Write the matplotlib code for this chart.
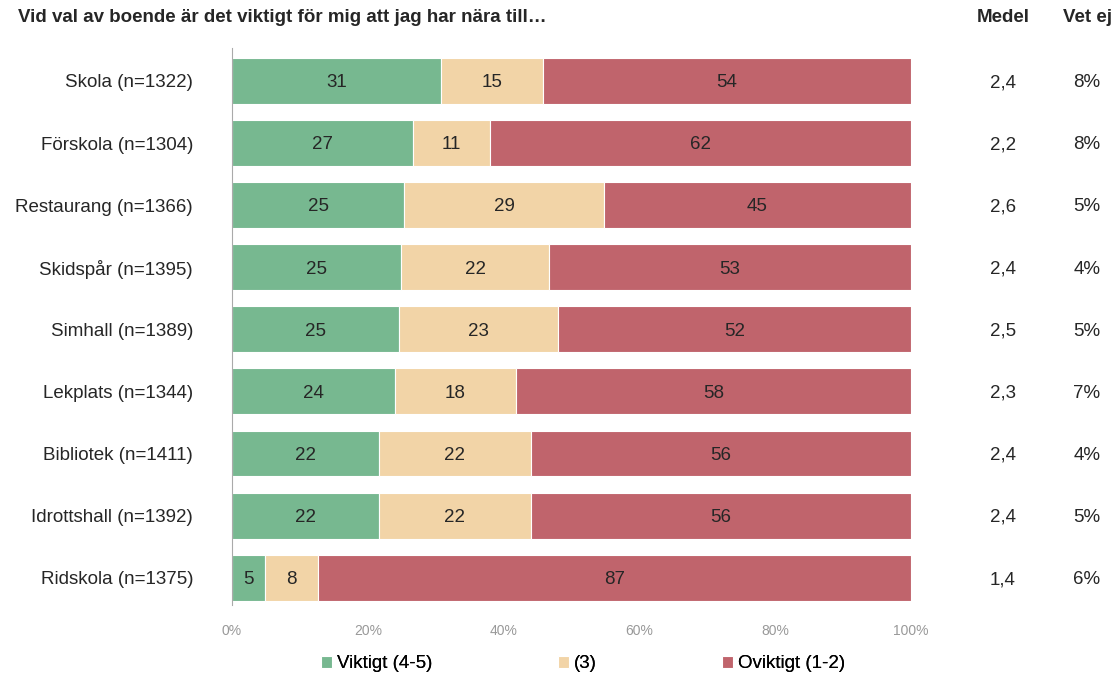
import matplotlib.pyplot as plt
import numpy as np

plt.rcParams['font.family'] = ['Liberation Sans', 'DejaVu Sans']

categories = ['Skola (n=1322)', 'Förskola (n=1304)', 'Restaurang (n=1366)',
              'Skidspår (n=1395)', 'Simhall (n=1389)', 'Lekplats (n=1344)',
              'Bibliotek (n=1411)', 'Idrottshall (n=1392)', 'Ridskola (n=1375)']
viktigt = [30.8, 26.7, 25.4, 24.9, 24.6, 24.0, 21.6, 21.6, 4.9]
mitten = [15.0, 11.3, 29.4, 21.8, 23.4, 17.8, 22.4, 22.4, 7.8]
oviktigt = [54.2, 62.0, 45.2, 53.3, 52.0, 58.2, 56.0, 56.0, 87.3]
medel = ['2,4', '2,2', '2,6', '2,4', '2,5', '2,3', '2,4', '2,4', '1,4']
vet_ej = ['8%', '8%', '5%', '4%', '5%', '7%', '4%', '5%', '6%']

series = [('Viktigt (4-5)', viktigt, '#77b890'),
          ('(3)', mitten, '#f2d4a7'),
          ('Oviktigt (1-2)', oviktigt, '#c0646c')]

fig = plt.figure(figsize=(11.2, 6.76), dpi=100)
ax = fig.add_axes([232 / 1120, 1 - 605 / 676, 679 / 1120, 557 / 676])

y = np.arange(len(categories))
left = np.zeros(len(categories))
handles = []
for name, vals, color in series:
    vals = np.array(vals)
    b = ax.barh(y, vals, left=left, height=0.74, color=color,
                edgecolor='white', linewidth=0.8, label=name)
    handles.append(b)
    for yi, l, v in zip(y, left, vals):
        ax.text(l + v / 2, yi + 0.03, f'{v:.0f}', ha='center', va='center',
                fontsize=13.5, color='#262626')
    left += vals

ax.set_xlim(0, 100)
ax.set_ylim(len(categories) - 1 + 0.44, -0.53)
ax.set_yticks(y)
ax.set_yticklabels(categories, fontsize=13.5, color='#262626')
ax.set_xticks(np.arange(0, 101, 20))
ax.set_xticklabels([f'{t}%' for t in range(0, 101, 20)], fontsize=10, color='#999999')
ax.tick_params(axis='y', length=0, pad=28)
ax.tick_params(axis='x', length=0, pad=14)
for s in ['top', 'right', 'bottom']:
    ax.spines[s].set_visible(False)
ax.spines['left'].set_color('#aaaaaa')

# title and side columns
fig.text(18 / 1120, 1 - 18 / 676, 'Vid val av boende är det viktigt för mig att jag har nära till…',
         fontsize=13.5, fontweight='bold', color='#262626', va='center', ha='left')
fig.text(1003 / 1120, 1 - 18 / 676, 'Medel', fontsize=13.5, fontweight='bold',
         color='#262626', va='center', ha='center')
fig.text(1088 / 1120, 1 - 18 / 676, 'Vet ej', fontsize=13.5, fontweight='bold',
         color='#262626', va='center', ha='center')
for yi, m, v in zip(y, medel, vet_ej):
    ax.annotate(m, xy=(1003 / 1120, yi + 0.03), xycoords=('figure fraction', 'data'),
                fontsize=13.5, color='#262626', ha='center', va='center')
    ax.annotate(v, xy=(1087 / 1120, yi + 0.03), xycoords=('figure fraction', 'data'),
                fontsize=13.5, color='#262626', ha='center', va='center')

# legend entries placed individually
for h, xpos in zip(handles, [321, 558, 722]):
    leg = fig.legend(handles=[h], loc='center left',
                     bbox_to_anchor=(xpos / 1120, 1 - 664 / 676),
                     frameon=False, fontsize=13.5, handlelength=0.6, handleheight=0.6,
                     handletextpad=0.25, borderpad=0, borderaxespad=0)
    fig.add_artist(leg)

fig.savefig('out.png', dpi=100)
